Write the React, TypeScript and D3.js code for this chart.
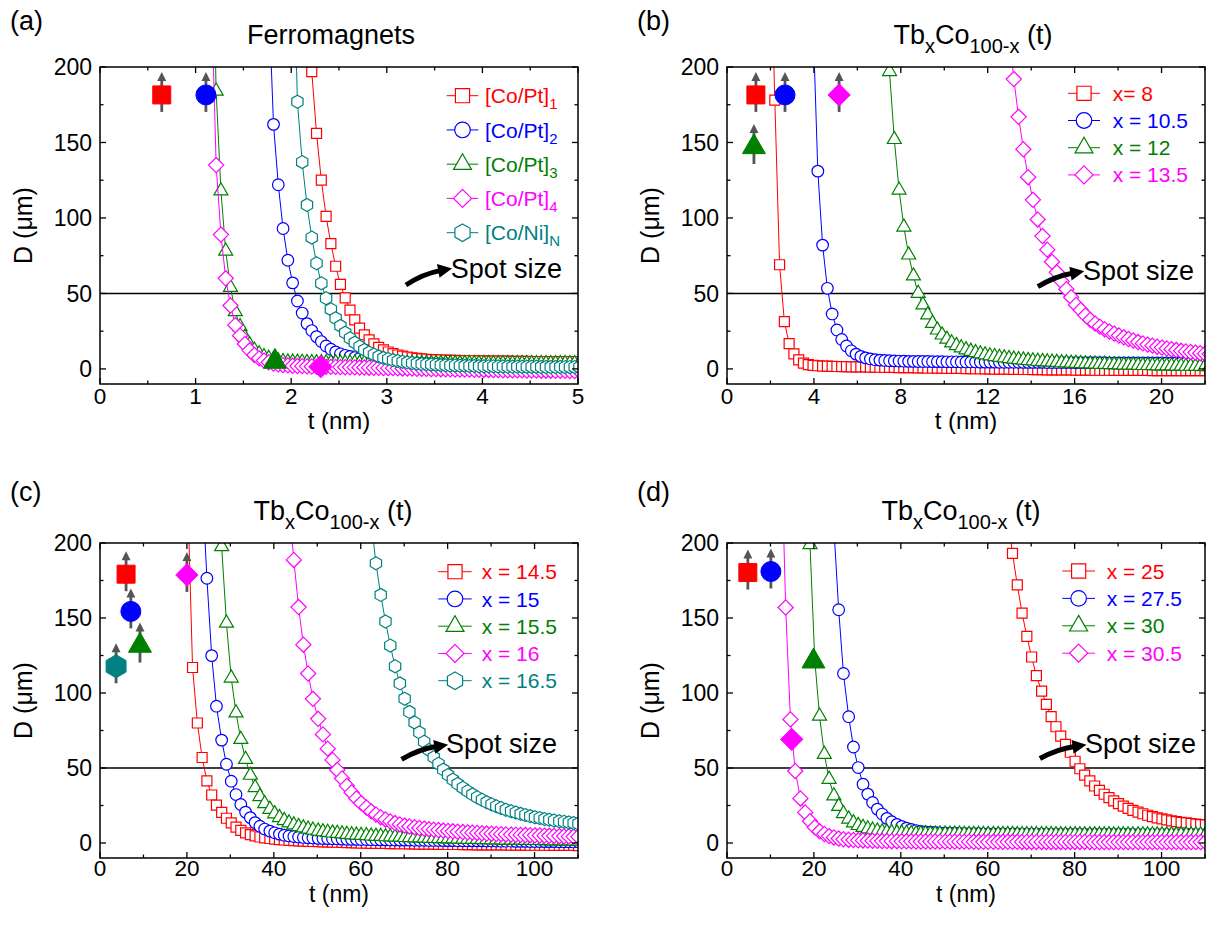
import React from "react";
import * as d3 from "d3";

const FONT = "'Liberation Sans', Arial, Helvetica, sans-serif";
const RED = "#ff0000";
const BLUE = "#0000ff";
const GREEN = "#008000";
const MAGENTA = "#ff00ff";
const TEAL = "#008080";

// ---- thickness grids t (nm) ----
const tGridA = [1.165,1.215,1.265,1.315,1.365,1.415,1.465,1.515,1.565,1.615,
  1.665,1.715,1.765,1.815,1.865,1.915,1.965,2.015,2.065,2.115,
  2.165,2.215,2.265,2.315,2.365,2.415,2.465,2.515,2.565,2.615,
  2.665,2.715,2.765,2.815,2.865,2.915,2.965,3.015,3.065,3.115,
  3.165,3.215,3.265,3.315,3.365,3.415,3.465,3.515,3.565,3.615,
  3.665,3.715,3.765,3.815,3.865,3.915,3.965,4.015,4.065,4.115,
  4.165,4.215,4.265,4.315,4.365,4.415,4.465,4.515,4.565,4.615,
  4.665,4.715,4.765,4.815,4.865,4.915,4.965,5.015];

const tGridB = [1.98,2.2,2.42,2.64,2.86,3.08,3.3,3.52,3.74,3.96,
  4.18,4.4,4.62,4.84,5.06,5.28,5.5,5.72,5.94,6.16,
  6.38,6.6,6.82,7.04,7.26,7.48,7.7,7.92,8.14,8.36,
  8.58,8.8,9.02,9.24,9.46,9.68,9.9,10.12,10.34,10.56,
  10.78,11,11.22,11.44,11.66,11.88,12.1,12.32,12.54,12.76,
  12.98,13.2,13.42,13.64,13.86,14.08,14.3,14.52,14.74,14.96,
  15.18,15.4,15.62,15.84,16.06,16.28,16.5,16.72,16.94,17.16,
  17.38,17.6,17.82,18.04,18.26,18.48,18.7,18.92,19.14,19.36,
  19.58,19.8,20.02,20.24,20.46,20.68,20.9,21.12,21.34,21.56,
  21.78,22,22.22];

const tGridCD = [0.2,1.3,2.4,3.5,4.6,5.8,6.9,8,9.1,10.2,
  11.3,12.4,13.5,14.6,15.7,16.9,18,19.1,20.2,21.3,
  22.4,23.5,24.6,25.7,26.8,28,29.1,30.2,31.3,32.4,
  33.5,34.6,35.7,36.8,37.9,39.1,40.2,41.3,42.4,43.5,
  44.6,45.7,46.8,47.9,49,50.2,51.3,52.4,53.5,54.6,
  55.7,56.8,57.9,59,60.1,61.3,62.4,63.5,64.6,65.7,
  66.8,67.9,69,70.1,71.2,72.4,73.5,74.6,75.7,76.8,
  77.9,79,80.1,81.2,82.3,83.5,84.6,85.7,86.8,87.9,
  89,90.1,91.2,92.3,93.4,94.6,95.7,96.8,97.9,99,
  100.1,101.2,102.3,103.4,104.5,105.7,106.8,107.9,109,110.1];

// ---- (a) Ferromagnets, D (um) ----
const aCoPt1 = [300,197,156,125,101,83,68,56,47,39,
  32.5,27,22.5,19.2,16.6,14.3,12.6,11.2,10.1,9.2,
  8.5,7.9,7.4,7,6.7,6.4,6.2,6,5.9,5.8,
  5.7,5.6,5.5,5.5,5.4,5.4,5.3,5.3,5.2,5.2,
  5.1,5.1,5.1,5,5,5,5,4.9,4.9,4.9,
  4.9,4.8,4.8,4.8,4.8,4.8,4.8,4.8];
const aCoPt2 = [245,162,122,93,72,57,45,37,30,25.4,
  21.4,18.1,15.2,13,11.3,10,9,8.2,7.5,6.9,
  6.4,6,5.6,5.3,5,4.8,4.6,4.4,4.2,4,
  3.9,3.8,3.7,3.6,3.5,3.5,3.4,3.4,3.3,3.3,
  3.2,3.2,3.2,3.1,3.1,3.1,3,3,3,3,
  2.9,2.9,2.9,2.9,2.9,2.8,2.8,2.8,2.8,2.8,
  2.8,2.8,2.8,2.8,2.8,2.8];
const aCoPt3 = [330,184,118,78,54,38,28,21,16,12.5,
  10,8.2,7,6,5.3,4.8,4.6,4.5,4.4,4.3,
  4.2,4.2,4.1,4.1,4,4,4,3.9,3.9,3.9,
  3.9,3.8,3.8,3.8,3.8,3.8,3.7,3.7,3.7,3.7,
  3.7,3.7,3.7,3.6,3.6,3.6,3.6,3.6,3.6,3.6,
  3.6,3.6,3.6,3.6,3.5,3.5,3.5,3.5,3.5,3.5,
  3.5,3.5,3.5,3.5,3.5,3.5,3.5,3.5,3.5,3.5,
  3.5,3.5,3.5,3.5,3.5,3.5,3.5,3.5];
const aCoPt4 = [250,135,89,60,42,29,22,16.5,12.3,9.2,
  7,5.5,4.4,3.6,3,2.6,2.3,2.1,1.9,1.8,
  1.7,1.6,1.5,1.5,1.4,1.3,1.3,1.2,1.1,1.1,
  1,0.9,0.9,0.8,0.7,0.7,0.6,0.5,0.5,0.4,
  0.3,0.3,0.2,0.1,0.1,0,-0.1,-0.1,-0.2,-0.3,
  -0.3,-0.4,-0.4,-0.5,-0.5,-0.6,-0.6,-0.7,-0.7,-0.8,
  -0.8,-0.9,-0.9,-1,-1,-1,-1.1,-1.1,-1.1,-1.2,
  -1.2,-1.2,-1.3,-1.3,-1.3,-1.4,-1.4,-1.4];
const aCoNi = [300,177,137,108.6,87,70,56.7,46.8,39.5,33.6,
  28.5,24,20.3,17.4,14.8,12.6,10.9,9.5,8.3,7.3,
  6.5,5.8,5.2,4.7,4.3,3.9,3.6,3.3,3.1,2.9,
  2.7,2.5,2.4,2.3,2.2,2.1,2,1.9,1.9,1.8,
  1.8,1.7,1.7,1.6,1.6,1.5,1.5,1.5,1.4,1.4,
  1.4,1.4,1.3,1.3,1.3,1.3,1.3,1.2,1.2,1.2,1.2];
const aStartT = [2.165, 1.765, 1.165, 1.165, 2.015];
const aFilledT = [0.646, 1.108, 1.83, 2.31];
const aFilledD = [181.5, 181.5, 4.8, 1.5];
const aFilledSeries = [0, 1, 2, 3];
const aFilledUp = [true, true, false, false];

// ---- (b) TbxCo100-x, x = 8 .. 13.5 ----
const bX8 = [300,178,69,31.3,16.8,10,6,3.8,2.9,2.4,
  2.1,1.9,1.8,1.7,1.6,1.5,1.5,1.4,1.4,1.3,
  1.3,1.2,1.2,1.1,1.1,1,1,0.9,0.9,0.8,
  0.8,0.7,0.7,0.6,0.6,0.5,0.5,0.4,0.4,0.3,
  0.3,0.2,0.2,0.1,0.1,0,0,-0.1,-0.1,-0.2,
  -0.2,-0.3,-0.3,-0.4,-0.4,-0.5,-0.5,-0.5,-0.6,-0.6,
  -0.6,-0.7,-0.7,-0.7,-0.8,-0.8,-0.8,-0.8,-0.9,-0.9,
  -0.9,-0.9,-1,-1,-1,-1,-1,-1,-1,-1,
  -1.1,-1.1,-1.1,-1.1,-1.1,-1.1,-1.2,-1.2,-1.2,-1.2,
  -1.2,-1.2,-1.2];
const bX105 = [230,131,82,53.4,36.4,25.8,19.5,15.2,12,9.8,
  8.3,7.3,6.6,6.1,5.8,5.6,5.4,5.3,5.2,5.1,
  5,5,4.9,4.9,4.9,4.8,4.8,4.8,4.7,4.7,
  4.7,4.6,4.6,4.6,4.6,4.5,4.5,4.5,4.5,4.4,
  4.4,4.4,4.4,4.4,4.3,4.3,4.3,4.3,4.3,4.2,
  4.2,4.2,4.2,4.2,4.2,4.1,4.1,4.1,4.1,4.1,
  4.1,4.1,4,4,4,4,4,4,4,4,
  4,3.9,3.9,3.9,3.9,3.9,3.9,3.9,3.9,3.9,
  3.9,3.9,3.9,3.9];
const bX12 = [270,197,152,118.5,94,75.5,61.6,50.1,42.4,35.8,
  30.2,25.8,22.5,19.7,17.3,15.5,14,12.7,11.7,10.8,
  10,9.3,8.7,8.2,7.7,7.3,6.9,6.5,6.2,5.9,
  5.6,5.3,5.1,4.9,4.7,4.5,4.3,4.1,4,3.8,
  3.7,3.5,3.4,3.3,3.2,3.1,3,2.9,2.8,2.7,
  2.6,2.5,2.5,2.4,2.3,2.3,2.2,2.1,2.1,2,
  2,1.9,1.9,1.8,1.8,1.7,1.7,1.6,1.6];
const bX135 = [225,192,167,145.5,127,112,99,88,79,71,
  64,58,52.8,47.5,42.4,39,35.5,32.5,30,28,
  26.3,24.8,23.4,22.1,20.9,19.8,18.8,17.8,16.9,16.1,
  15.4,14.7,14.1,13.5,13,12.5,12,11.6,11.2,10.8,
  10.4,10.1,9.8];
const bStartT = [1.98, 3.96, 7.26, 12.98];
const bFilledT = [1.33, 2.67, 5.16, 1.24];
const bFilledD = [181.5, 181.5, 181.5, 147];
const bFilledSeries = [0, 1, 3, 2];
const bFilledUp = [true, true, true, true];

// ---- (c) TbxCo100-x, x = 14.5 .. 16.5 ----
const cX145 = [230,117,80,57,41.4,32,25.2,20.4,16.5,13.4,
  10.6,8.4,6.8,5.6,4.7,4,3.4,3,2.6,2.3,
  2,1.8,1.6,1.4,1.2,1.1,1,0.9,0.8,0.7,
  0.6,0.5,0.4,0.3,0.2,0.1,0,-0.1,-0.2,-0.2,
  -0.3,-0.3,-0.4,-0.4,-0.5,-0.5,-0.6,-0.6,-0.7,-0.7,
  -0.8,-0.8,-0.9,-0.9,-1,-1,-1,-1.1,-1.1,-1.1,
  -1.2,-1.2,-1.2,-1.3,-1.3,-1.3,-1.3,-1.4,-1.4,-1.4,
  -1.4,-1.5,-1.5,-1.5,-1.5,-1.5,-1.6,-1.6,-1.6,-1.6,
  -1.6,-1.7];
const cX15 = [240,176.5,124.9,91.2,68.6,52.5,41.2,32.3,25.7,20.6,
  16.9,13.6,11.2,9.3,7.9,6.8,5.9,5.2,4.7,4.3,
  4,3.7,3.5,3.3,3.1,3,2.9,2.8,2.7,2.6,
  2.5,2.4,2.4,2.3,2.3,2.2,2.2,2.1,2.1,2,
  2,1.9,1.9,1.9,1.8,1.8,1.8,1.7,1.7,1.7,
  1.6,1.6,1.6,1.5,1.5,1.5,1.4,1.4,1.4,1.3,
  1.3,1.3,1.2,1.2,1.2,1.1,1.1,1.1,1,1,
  1,0.9,0.9,0.9,0.8,0.8,0.8,0.7,0.7];
const cX155 = [260,197.6,146.6,110,86.8,69.1,55.8,45.2,37,31,
  26.3,22.5,19.5,17,15,13.4,12.1,11,10.1,9.3,
  8.6,8,7.5,7.1,6.7,6.4,6.1,5.8,5.5,5.3,
  5.1,4.9,4.7,4.5,4.4,4.2,4.1,4,3.9,3.7,
  3.6,3.5,3.4,3.3,3.2,3.1,3,2.9,2.8,2.8,
  2.7,2.6,2.5,2.5,2.4,2.3,2.3,2.2,2.1,2.1,
  2,2,1.9,1.9,1.8,1.8,1.7,1.7,1.6,1.6,
  1.5,1.5,1.4,1.4,1.3,1.3];
const cX16 = [225,188.7,157.3,132.2,113,96.1,82.8,72.4,62.9,55.4,
  48.7,43,38.1,33.7,29.7,26.6,23.7,21.1,19,17.2,
  15.7,14.4,13.3,12.4,11.6,11,10.5,10,9.6,9.2,
  8.9,8.6,8.3,8,7.8,7.5,7.3,7.1,6.9,6.7,
  6.5,6.3,6.2,6,5.9,5.7,5.6,5.5,5.4,5.3,
  5.2,5.1,5,4.9,4.8,4.7,4.6,4.5,4.4,4.3,4.2];
const cX165 = [215,186.5,165.4,147.7,131.6,117.8,106.4,96.2,87.4,80.3,
  73.7,67.5,62,57.2,52.8,48.9,45.4,42.2,39.4,36.8,
  34.5,32.4,30.5,28.8,27.2,25.8,24.5,23.3,22.2,21.2,
  20.3,19.4,18.6,17.9,17.2,16.6,16,15.5,15,14.5,
  14.1,13.7,13.3,12.9];
const cStartT = [20.2, 23.5, 26.8, 43.5, 62.4];
const cFilledT = [6, 7.1, 9.2, 3.7, 20];
const cFilledD = [179.2, 154.4, 131.6, 117.8, 178.7];
const cFilledSeries = [0, 1, 2, 4, 3];
const cFilledUp = [true, true, true, true, true];

// ---- (d) TbxCo100-x, x = 25 .. 30.5 ----
const dX25 = [216,193.1,172.1,153.3,137.8,124,111.6,101.2,92.4,84.2,
  77.5,71.3,65.8,60.5,54.5,49.5,45.2,41.4,38,35.1,
  32.5,30.2,28.1,26.3,24.6,23.1,21.8,20.6,19.5,18.5,
  17.6,16.8,16.1,15.4,14.8,14.3,13.8,13.4,13,12.6,
  12.3,12];
const dX275 = [210,155.5,113,84.2,64,50.3,39.2,32.6,27,22.6,
  19.3,16.4,14.2,12.4,11,9.9,9,8.3,7.7,7.4,
  7.2,7,6.8,6.7,6.6,6.5,6.4,6.3,6.3,6.2,
  6.2,6.1,6.1,6.1,6,6,6,6,6,5.9,
  5.9,5.9,5.9,5.9,5.9,5.8,5.8,5.8,5.8,5.8,
  5.8,5.8,5.8,5.7,5.7,5.7,5.7,5.7,5.7,5.7,
  5.7,5.7,5.7,5.6,5.6,5.6,5.6,5.6,5.6,5.6,
  5.6,5.6,5.6,5.6,5.6,5.6,5.6,5.6];
const dX30 = [300,199,122,84.6,59.1,42.5,31.4,24.4,19.6,16,
  13.5,11.7,10.4,9.4,8.6,8,7.5,7.2,6.9,6.7,
  6.5,6.4,6.3,6.2,6.1,6.1,6,6,6,5.9,
  5.9,5.9,5.9,5.8,5.8,5.8,5.8,5.8,5.7,5.7,
  5.7,5.7,5.7,5.7,5.6,5.6,5.6,5.6,5.6,5.6,
  5.6,5.6,5.5,5.5,5.5,5.5,5.5,5.5,5.5,5.5,
  5.5,5.5,5.5,5.5,5.4,5.4,5.4,5.4,5.4,5.4,
  5.4,5.4,5.4,5.4,5.4,5.4,5.4,5.4,5.4,5.4,
  5.4,5.4,5.4,5.4];
const dX305 = [275,157,82.4,48,29.7,20.4,14.5,10.5,7.8,6,
  4.6,3.7,3,2.5,2.2,2,1.8,1.7,1.6,1.5,
  1.4,1.3,1.3,1.2,1.2,1.1,1.1,1.1,1,1,
  1,1,1,0.9,0.9,0.9,0.9,0.9,0.9,0.9,
  0.8,0.8,0.8,0.8,0.8,0.8,0.8,0.8,0.8,0.8,
  0.7,0.7,0.7,0.7,0.7,0.7,0.7,0.7,0.7,0.7,
  0.7,0.7,0.7,0.7,0.7,0.6,0.6,0.6,0.6,0.6,
  0.6,0.6,0.6,0.6,0.6,0.6,0.6,0.6,0.6,0.6,
  0.6,0.6,0.6,0.6,0.6,0.6,0.6,0.6,0.6];
const dStartT = [64.6, 24.6, 18, 12.4];
const dFilledT = [4.8, 10.1, 19.9, 14.9];
const dFilledD = [180.3, 181, 121.1, 69.1];
const dFilledSeries = [0, 1, 2, 3];
const dFilledUp = [true, true, false, false];

// ---- axes ----
const yMajor = [0, 50, 100, 150, 200];
const yMinor = [25, 75, 125, 175];
const aXMajor = [0, 1, 2, 3, 4, 5];
const aXMinor = [0.5, 1.5, 2.5, 3.5, 4.5];
const bXMajor = [0, 4, 8, 12, 16, 20];
const bXMinor = [2, 6, 10, 14, 18, 22];
const cdXMajor = [0, 20, 40, 60, 80, 100];
const cdXMinor = [10, 30, 50, 70, 90, 110];
const spotSize = 50;

// ---- symbols ----
const symDiamond = {
  draw(ctx: any, size: number) {
    const r = Math.sqrt(size / 2);
    ctx.moveTo(0, -r);
    ctx.lineTo(r, 0);
    ctx.lineTo(0, r);
    ctx.lineTo(-r, 0);
    ctx.closePath();
  },
};
const symHexagon = {
  draw(ctx: any, size: number) {
    const r = Math.sqrt(size / (1.5 * Math.sqrt(3)));
    for (let k = 0; k < 6; k++) {
      const a = -Math.PI / 2 + (k * Math.PI) / 3;
      if (k === 0) ctx.moveTo(r * Math.cos(a), r * Math.sin(a));
      else ctx.lineTo(r * Math.cos(a), r * Math.sin(a));
    }
    ctx.closePath();
  },
};
const SYMBOLS: any = {
  square: d3.symbolSquare,
  circle: d3.symbolCircle,
  triangle: d3.symbolTriangle,
  diamond: symDiamond,
  hexagon: symHexagon,
};
const OPEN_SIZE: any = { square: 100, circle: 106, triangle: 85, diamond: 115, hexagon: 110 };
const LEGEND_SIZE: any = { square: 200, circle: 190, triangle: 140, diamond: 162, hexagon: 200 };
const FILLED_SIZE: any = { square: 324, circle: 314, triangle: 229, diamond: 250, hexagon: 344 };
const symPath = (kind: string, size: number) => d3.symbol(SYMBOLS[kind], size)() as string;

type Series = { label: string; sub?: string; color: string; symbol: string; tStart: number; D: number[] };

const panels = [
  {
    id: "a", tag: "(a)", title: [{ t: "Ferromagnets" }], titleX: 331,
    left: 100, right: 578, top: 67, bottom: 384, xDomain: [0, 5],
    grid: tGridA, xMajor: aXMajor, xMinor: aXMinor,
    series: [
      { label: "[Co/Pt]", sub: "1", color: RED, symbol: "square", tStart: aStartT[0], D: aCoPt1 },
      { label: "[Co/Pt]", sub: "2", color: BLUE, symbol: "circle", tStart: aStartT[1], D: aCoPt2 },
      { label: "[Co/Pt]", sub: "3", color: GREEN, symbol: "triangle", tStart: aStartT[2], D: aCoPt3 },
      { label: "[Co/Pt]", sub: "4", color: MAGENTA, symbol: "diamond", tStart: aStartT[3], D: aCoPt4 },
      { label: "[Co/Ni]", sub: "N", color: TEAL, symbol: "hexagon", tStart: aStartT[4], D: aCoNi },
    ] as Series[],
    filledT: aFilledT, filledD: aFilledD, filledSeries: aFilledSeries, filledUp: aFilledUp,
    legend: { x1: 446.7, x2: 478.3, tx: 485, y0: 95.7, dy: 34.25 },
    spotText: [3.67, 60.3], spotFrom: [3.2, 55.6], spotTo: [3.6, 65.6],
  },
  {
    id: "b", tag: "(b)", titleX: 973,
    left: 727, right: 1205, top: 67, bottom: 384, xDomain: [0, 22],
    grid: tGridB, xMajor: bXMajor, xMinor: bXMinor,
    series: [
      { label: "x= 8", color: RED, symbol: "square", tStart: bStartT[0], D: bX8 },
      { label: "x = 10.5", color: BLUE, symbol: "circle", tStart: bStartT[1], D: bX105 },
      { label: "x = 12", color: GREEN, symbol: "triangle", tStart: bStartT[2], D: bX12 },
      { label: "x = 13.5", color: MAGENTA, symbol: "diamond", tStart: bStartT[3], D: bX135 },
    ] as Series[],
    filledT: bFilledT, filledD: bFilledD, filledSeries: bFilledSeries, filledUp: bFilledUp,
    legend: { x1: 1068, x2: 1100, tx: 1112.7, y0: 93.3, dy: 27.2 },
    spotText: [16.38, 58.9], spotFrom: [14.31, 54.5], spotTo: [16.08, 63.8],
  },
  {
    id: "c", tag: "(c)", titleX: 333,
    left: 100, right: 578, top: 543, bottom: 858, xDomain: [0, 110],
    grid: tGridCD, xMajor: cdXMajor, xMinor: cdXMinor,
    series: [
      { label: "x = 14.5", color: RED, symbol: "square", tStart: cStartT[0], D: cX145 },
      { label: "x = 15", color: BLUE, symbol: "circle", tStart: cStartT[1], D: cX15 },
      { label: "x = 15.5", color: GREEN, symbol: "triangle", tStart: cStartT[2], D: cX155 },
      { label: "x = 16", color: MAGENTA, symbol: "diamond", tStart: cStartT[3], D: cX16 },
      { label: "x = 16.5", color: TEAL, symbol: "hexagon", tStart: cStartT[4], D: cX165 },
    ] as Series[],
    filledT: cFilledT, filledD: cFilledD, filledSeries: cFilledSeries, filledUp: cFilledUp,
    legend: { x1: 438.3, x2: 471.7, tx: 481.7, y0: 571.7, dy: 27.25 },
    spotText: [79.6, 60.3], spotFrom: [69.4, 55.8], spotTo: [78.3, 64.7],
  },
  {
    id: "d", tag: "(d)", titleX: 961,
    left: 727, right: 1205, top: 543, bottom: 858, xDomain: [0, 110],
    grid: tGridCD, xMajor: cdXMajor, xMinor: cdXMinor,
    series: [
      { label: "x = 25", color: RED, symbol: "square", tStart: dStartT[0], D: dX25 },
      { label: "x = 27.5", color: BLUE, symbol: "circle", tStart: dStartT[1], D: dX275 },
      { label: "x = 30", color: GREEN, symbol: "triangle", tStart: dStartT[2], D: dX30 },
      { label: "x = 30.5", color: MAGENTA, symbol: "diamond", tStart: dStartT[3], D: dX305 },
    ] as Series[],
    filledT: dFilledT, filledD: dFilledD, filledSeries: dFilledSeries, filledUp: dFilledUp,
    legend: { x1: 1062.3, x2: 1095, tx: 1106.7, y0: 571, dy: 27.4 },
    spotText: [82.4, 60.3], spotFrom: [72, 56.3], spotTo: [80.9, 64.7],
  },
];

const tbTitle = [
  { t: "Tb" }, { t: "x", sub: true }, { t: "Co" }, { t: "100-x", sub: true }, { t: " (t)" },
];

function TitleText({ x, y, parts }: { x: number; y: number; parts: any[] }) {
  let prevSub = false;
  return (
    <text x={x} y={y} textAnchor="middle" fontFamily={FONT} fontSize={27} style={{ whiteSpace: "pre" }}>
      {parts.map((p, i) => {
        const dy = p.sub && !prevSub ? 9 : !p.sub && prevSub ? -9 : 0;
        prevSub = !!p.sub;
        return (
          <tspan key={i} dy={dy} fontSize={p.sub ? 20 : 27}>{p.t}</tspan>
        );
      })}
    </text>
  );
}

function Panel({ p }: { p: any }) {
  const x = d3.scaleLinear().domain(p.xDomain).range([p.left, p.right]);
  const y = d3.scaleLinear().domain([-10, 200]).range([p.bottom, p.top]);
  const line = d3.line<[number, number]>().x((d) => x(d[0])).y((d) => y(d[1]));
  const clipId = `clip-${p.id}`;
  const W = p.right - p.left;
  const H = p.bottom - p.top;
  const cx = (p.left + p.right) / 2;
  const cy = (p.top + p.bottom) / 2;

  const seriesPts = p.series.map((s: Series) => {
    const i0 = d3.minIndex(p.grid as number[], (t: number) => Math.abs(t - s.tStart));
    const pts: [number, number][] = [];
    s.D.forEach((d, k) => {
      const t = p.grid[i0 + k];
      if (t !== undefined) pts.push([t, d]);
    });
    return pts;
  });

  // spot-size swoosh arrow
  const S = [x(p.spotFrom[0]), y(p.spotFrom[1])];
  const E = [x(p.spotTo[0]), y(p.spotTo[1])];
  const C = [S[0] + 0.45 * (E[0] - S[0]), E[1] + 0.25 * (S[1] - E[1])];
  const len = Math.hypot(E[0] - C[0], E[1] - C[1]);
  const ux = (E[0] - C[0]) / len;
  const uy = (E[1] - C[1]) / len;
  const px = -uy;
  const py = ux;
  const bodyEnd = [E[0] - ux * 4, E[1] - uy * 4];
  const tip = [E[0] + ux * 8, E[1] + uy * 8];
  const b1 = [E[0] - ux * 6 + px * 7, E[1] - uy * 6 + py * 7];
  const b2 = [E[0] - ux * 6 - px * 7, E[1] - uy * 6 - py * 7];

  const isTop = p.top < 300;
  const tickBase = p.bottom + (isTop ? 20 : 18);
  const axisBase = p.bottom + (isTop ? 45 : 44);
  const axisSize = isTop ? 24 : 23;
  const titleBase = p.top - 23;
  const tagBase = p.top - (isTop ? 37.5 : 42);

  return (
    <g>
      <defs>
        <clipPath id={clipId}>
          <rect x={p.left} y={p.top} width={W} height={H} />
        </clipPath>
      </defs>

      {/* spot size line */}
      <line x1={p.left} x2={p.right} y1={y(spotSize)} y2={y(spotSize)} stroke="#000" strokeWidth={1.5} />

      <g clipPath={`url(#${clipId})`}>
        {p.series.map((s: Series, i: number) => (
          <g key={i}>
            <path d={line(seriesPts[i]) as string} fill="none" stroke={s.color} strokeWidth={1} />
            {seriesPts[i].map((d: [number, number], k: number) => (
              <path
                key={k}
                d={symPath(s.symbol, OPEN_SIZE[s.symbol])}
                transform={`translate(${x(d[0])},${y(d[1])})`}
                fill="#fff"
                stroke={s.color}
                strokeWidth={1.2}
              />
            ))}
          </g>
        ))}
      </g>

      {/* filled reference markers */}
      {p.filledT.map((t: number, i: number) => {
        const s: Series = p.series[p.filledSeries[i]];
        const mx = x(t);
        const my = y(p.filledD[i]);
        return (
          <g key={i} transform={`translate(${mx},${my})`}>
            {p.filledUp[i] && (
              <g>
                <line x1={0} x2={0} y1={17} y2={-15} stroke="#555" strokeWidth={2.8} />
                <path d="M0,-23 L-4.5,-14 L4.5,-14 Z" fill="#555" />
              </g>
            )}
            <path d={symPath(s.symbol, FILLED_SIZE[s.symbol])} fill={s.color} stroke={s.color} strokeWidth={1} />
          </g>
        );
      })}

      {/* frame */}
      <rect x={p.left} y={p.top} width={W} height={H} fill="none" stroke="#000" strokeWidth={1.5} />

      {/* ticks */}
      {p.xMajor.map((v: number) => (
        <g key={`xM${v}`}>
          <line x1={x(v)} x2={x(v)} y1={p.bottom} y2={p.bottom - 6} stroke="#000" strokeWidth={1.3} />
          <line x1={x(v)} x2={x(v)} y1={p.top} y2={p.top + 6} stroke="#000" strokeWidth={1.3} />
          <text x={x(v)} y={tickBase} textAnchor="middle" fontFamily={FONT} fontSize={22.5}>{v}</text>
        </g>
      ))}
      {p.xMinor.map((v: number) => (
        <g key={`xm${v}`}>
          <line x1={x(v)} x2={x(v)} y1={p.bottom} y2={p.bottom - 3.5} stroke="#000" strokeWidth={1.3} />
          <line x1={x(v)} x2={x(v)} y1={p.top} y2={p.top + 3.5} stroke="#000" strokeWidth={1.3} />
        </g>
      ))}
      {yMajor.map((v) => (
        <g key={`yM${v}`}>
          <line x1={p.left} x2={p.left + 6} y1={y(v)} y2={y(v)} stroke="#000" strokeWidth={1.3} />
          <line x1={p.right} x2={p.right - 6} y1={y(v)} y2={y(v)} stroke="#000" strokeWidth={1.3} />
          <text x={p.left - 8} y={y(v)} dy="0.36em" textAnchor="end" fontFamily={FONT} fontSize={23}>{v}</text>
        </g>
      ))}
      {yMinor.map((v) => (
        <g key={`ym${v}`}>
          <line x1={p.left} x2={p.left + 3.5} y1={y(v)} y2={y(v)} stroke="#000" strokeWidth={1.3} />
          <line x1={p.right} x2={p.right - 3.5} y1={y(v)} y2={y(v)} stroke="#000" strokeWidth={1.3} />
        </g>
      ))}

      {/* axis titles */}
      <text x={cx} y={axisBase} textAnchor="middle" fontFamily={FONT} fontSize={axisSize}>t (nm)</text>
      <text
        transform={`translate(${p.left - 68},${cy}) rotate(-90)`}
        textAnchor="middle"
        fontFamily={FONT}
        fontSize={25}
      >
        D (μm)
      </text>

      {/* title and panel tag */}
      <TitleText x={p.titleX} y={titleBase} parts={p.title || tbTitle} />
      <text x={p.left - 90} y={tagBase} fontFamily={FONT} fontSize={27}>{p.tag}</text>

      {/* legend */}
      {p.series.map((s: Series, i: number) => {
        const ly = p.legend.y0 + i * p.legend.dy;
        const mx = (p.legend.x1 + p.legend.x2) / 2;
        return (
          <g key={`lg${i}`}>
            <line x1={p.legend.x1} x2={p.legend.x2} y1={ly} y2={ly} stroke={s.color} strokeWidth={1} />
            <path
              d={symPath(s.symbol, LEGEND_SIZE[s.symbol])}
              transform={`translate(${mx},${ly})`}
              fill="#fff"
              stroke={s.color}
              strokeWidth={1.2}
            />
            <text x={p.legend.tx} y={ly} dy="0.36em" fontFamily={FONT} fontSize={21} fill={s.color}>
              {s.label}
              {s.sub && (
                <tspan dy={6} fontSize={15}>{s.sub}</tspan>
              )}
            </text>
          </g>
        );
      })}

      {/* spot size annotation */}
      <path
        d={`M${S[0]},${S[1]} Q${C[0]},${C[1]} ${bodyEnd[0]},${bodyEnd[1]}`}
        fill="none"
        stroke="#000"
        strokeWidth={5}
      />
      <path d={`M${tip[0]},${tip[1]} L${b1[0]},${b1[1]} L${b2[0]},${b2[1]} Z`} fill="#000" />
      <text x={x(p.spotText[0])} y={y(p.spotText[1])} fontFamily={FONT} fontSize={27}>Spot size</text>
    </g>
  );
}

export default function App() {
  return (
    <svg
      width={1220}
      height={927}
      style={{ position: "absolute", left: 0, top: 0, background: "#fff" }}
    >
      <rect x={0} y={0} width={1220} height={927} fill="#fff" />
      {panels.map((p) => (
        <Panel key={p.id} p={p} />
      ))}
    </svg>
  );
}
